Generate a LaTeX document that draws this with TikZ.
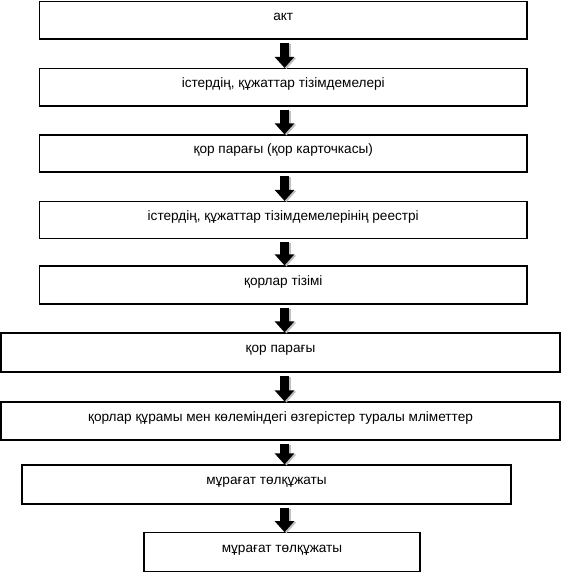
\documentclass[tikz,border=0pt]{standalone}
\usepackage{fontspec}
\setmainfont{Liberation Sans}
\usetikzlibrary{arrows.meta}
\begin{document}
\begin{tikzpicture}[x=1pt,y=-1pt,
  box/.style={draw, line width=1.2pt, inner sep=0pt, text height=6pt, text depth=6pt, font=\fontsize{13.6}{15}\selectfont},
  flow/.style={line width=9pt, -{Triangle[width=19pt,length=11pt]}},
  flowshadow/.style={line width=9pt, draw=black!25, -{Triangle[width=19pt,length=11pt]}, color=black!25}]
\useasboundingbox[fill=white] (0,0) rectangle (562,573);
\node[box, minimum width=487.5pt, minimum height=37.5pt] (b1) at (283.25,20.25) {акт};
\node[box, minimum width=487.5pt, minimum height=37.5pt] (b2) at (283.25,87.25) {істердің, құжаттар тізімдемелері};
\node[box, minimum width=487.5pt, minimum height=37pt] (b3) at (283.25,153.5) {қор парағы (қор карточкасы)};
\node[box, minimum width=487.5pt, minimum height=37pt] (b4) at (283.25,220) {істердің, құжаттар тізімдемелерінің реестрі};
\node[box, minimum width=487.5pt, minimum height=38pt] (b5) at (283.25,285) {қорлар тізімі};
\node[box, minimum width=559pt, minimum height=39pt] (b6) at (280.5,352.5) {қор парағы};
\node[box, minimum width=559pt, minimum height=38pt] (b7) at (280.5,421) {қорлар құрамы мен көлеміндегі өзгерістер туралы мліметтер};
\node[box, minimum width=489pt, minimum height=39pt] (b8) at (266.5,484.5) {мұрағат төлқұжаты};
\node[box, minimum width=276pt, minimum height=38.5pt] (b9) at (282,552) {мұрағат төлқұжаты};
\coordinate (ax) at (284.5,0);
\foreach \a/\b in {b1/b2,b2/b3,b3/b4,b4/b5,b5/b6,b6/b7,b7/b8,b8/b9}{
  \draw[flowshadow] ([xshift=2pt,yshift=-4pt]\a.south -| ax) -- ([xshift=2pt,yshift=-1pt]\b.north -| ax);
  \draw[flow] ([yshift=-3pt]\a.south -| ax) -- (\b.north -| ax);
}
\end{tikzpicture}
\end{document}
